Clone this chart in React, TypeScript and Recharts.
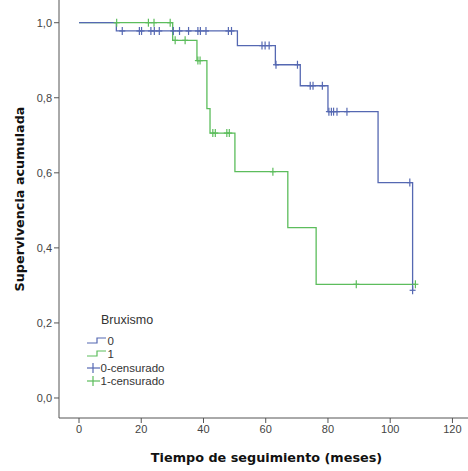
import React from "react";
import { ComposedChart, Line, Scatter, XAxis, YAxis } from "recharts";

const blueSteps = [
  { t: 0, s: 1.0 },
  { t: 12.0, s: 0.978 },
  { t: 50.9, s: 0.939 },
  { t: 63.1, s: 0.888 },
  { t: 71.1, s: 0.832 },
  { t: 80.0, s: 0.763 },
  { t: 96.1, s: 0.574 },
  { t: 107.2, s: 0.287 },
];

const greenSteps = [
  { t: 0, s: 1.0 },
  { t: 30.1, s: 0.953 },
  { t: 37.9, s: 0.899 },
  { t: 41.1, s: 0.771 },
  { t: 42.1, s: 0.706 },
  { t: 50.1, s: 0.603 },
  { t: 67.1, s: 0.454 },
  { t: 76.2, s: 0.303 },
  { t: 108.1, s: 0.303 },
];

const blueCensored = [
  { t: 13.9, s: 0.978 }, { t: 19.4, s: 0.978 }, { t: 20.1, s: 0.978 },
  { t: 23.1, s: 0.978 }, { t: 24.2, s: 0.978 }, { t: 25.8, s: 0.978 },
  { t: 30.3, s: 0.978 }, { t: 32.3, s: 0.978 }, { t: 35.2, s: 0.978 },
  { t: 38.2, s: 0.978 }, { t: 39.0, s: 0.978 }, { t: 40.8, s: 0.978 },
  { t: 48.0, s: 0.978 }, { t: 49.0, s: 0.978 },
  { t: 58.8, s: 0.939 }, { t: 59.8, s: 0.939 }, { t: 61.1, s: 0.939 },
  { t: 63.3, s: 0.888 }, { t: 70.2, s: 0.888 },
  { t: 74.3, s: 0.832 }, { t: 75.2, s: 0.832 }, { t: 78.2, s: 0.832 },
  { t: 80.3, s: 0.763 }, { t: 81.1, s: 0.763 }, { t: 81.8, s: 0.763 },
  { t: 82.9, s: 0.763 }, { t: 86.1, s: 0.763 },
  { t: 106.3, s: 0.574 },
  { t: 107.2, s: 0.287 },
];

const greenCensored = [
  { t: 12.1, s: 1.0 }, { t: 22.3, s: 1.0 }, { t: 24.1, s: 1.0 }, { t: 29.3, s: 1.0 },
  { t: 30.9, s: 0.953 }, { t: 34.1, s: 0.953 },
  { t: 38.2, s: 0.899 }, { t: 38.9, s: 0.899 },
  { t: 43.0, s: 0.706 }, { t: 43.8, s: 0.706 }, { t: 47.5, s: 0.706 }, { t: 48.3, s: 0.706 },
  { t: 62.3, s: 0.603 },
  { t: 89.1, s: 0.303 }, { t: 108.1, s: 0.303 },
];

const xTicks = [0, 20, 40, 60, 80, 100, 120];
const yTicks = [0, 0.2, 0.4, 0.6, 0.8, 1.0];
const legendTitle = "Bruxismo";
const legendLabels = ["0", "1", "0-censurado", "1-censurado"];

const BLUE = "#5568b2";
const GREEN = "#5cbd5c";
const AXIS = "#555555";

const makeCross = (color: string) => (props: any) => {
  const { cx, cy } = props;
  if (cx == null || cy == null) return <g />;
  return (
    <g>
      <line x1={cx} y1={cy - 4} x2={cx} y2={cy + 4} stroke={color} strokeWidth={1.2} />
      <line x1={cx - 3} y1={cy} x2={cx + 3} y2={cy} stroke={color} strokeWidth={1.2} />
    </g>
  );
};

const fmtY = (v: number) => v.toFixed(1).replace(".", ",");

const Legend = () => {
  const rows = [
    { type: "step", color: BLUE },
    { type: "step", color: GREEN },
    { type: "cross", color: BLUE },
    { type: "cross", color: GREEN },
  ];
  const ys = [341, 354, 368, 381];
  return (
    <svg width={468} height={471} style={{ position: "absolute", left: 0, top: 0, pointerEvents: "none" }}>
      <text x={101} y={324} fontFamily="Liberation Sans, Arial, sans-serif" fontSize={12.5} fill="#333">
        {legendTitle}
      </text>
      {rows.map((r, i) => {
        const y = ys[i];
        return (
          <g key={i}>
            {r.type === "step" ? (
              <polyline
                points={`87,${y + 2} 97,${y + 2} 97,${y - 3} 106,${y - 3}`}
                fill="none"
                stroke={r.color}
                strokeWidth={1.2}
              />
            ) : (
              <g>
                <line x1={87} y1={y} x2={100} y2={y} stroke={r.color} strokeWidth={1.2} />
                <line x1={93} y1={y - 5} x2={93} y2={y + 5} stroke={r.color} strokeWidth={1.2} />
              </g>
            )}
            <text
              x={r.type === "step" ? 107.5 : 100.5}
              y={y + 4}
              fontFamily="Liberation Sans, Arial, sans-serif"
              fontSize={11.5}
              fill="#333"
            >
              {legendLabels[i]}
            </text>
          </g>
        );
      })}
    </svg>
  );
};

export default function App() {
  return (
    <div style={{ position: "absolute", left: 0, top: 0, width: 468, height: 471, background: "#fff" }}>
      <ComposedChart width={468} height={471} margin={{ top: 0, right: 0, left: 0, bottom: 0 }}>
        <XAxis
          type="number"
          dataKey="t"
          domain={[-6.43, 125.0]}
          allowDataOverflow
          ticks={xTicks}
          tickSize={5}
          tickMargin={2}
          height={53}
          stroke={AXIS}
          tick={{ fill: "#444", fontSize: 11, fontFamily: "Liberation Sans, Arial, sans-serif" }}
          label={{
            value: "Tiempo de seguimiento (meses)",
            position: "insideBottom",
            offset: 9,
            style: { fill: "#111", fontSize: 12.8, fontWeight: "bold", fontFamily: "DejaVu Sans, sans-serif" },
            dx: 3,
          }}
        />
        <YAxis
          type="number"
          dataKey="s"
          domain={[-0.0533, 1.0605]}
          allowDataOverflow
          ticks={yTicks}
          tickFormatter={fmtY}
          tickSize={5}
          tickMargin={2}
          width={59}
          stroke={AXIS}
          tick={{ fill: "#444", fontSize: 11, fontFamily: "Liberation Sans, Arial, sans-serif" }}
          label={{
            value: "Supervivencia acumulada",
            angle: -90,
            position: "insideLeft",
            offset: 19,
            style: { textAnchor: "middle", fill: "#111", fontSize: 12.8, fontWeight: "bold", fontFamily: "DejaVu Sans, sans-serif" },
            dy: -10,
          }}
        />
        <Line
          data={greenSteps}
          dataKey="s"
          type="stepAfter"
          stroke={GREEN}
          strokeWidth={1.3}
          dot={false}
          isAnimationActive={false}
        />
        <Line
          data={blueSteps}
          dataKey="s"
          type="stepAfter"
          stroke={BLUE}
          strokeWidth={1.3}
          dot={false}
          isAnimationActive={false}
        />
        <Scatter data={blueCensored} dataKey="s" shape={makeCross(BLUE)} isAnimationActive={false} />
        <Scatter data={greenCensored} dataKey="s" shape={makeCross(GREEN)} isAnimationActive={false} />
      </ComposedChart>
      <Legend />
    </div>
  );
}
